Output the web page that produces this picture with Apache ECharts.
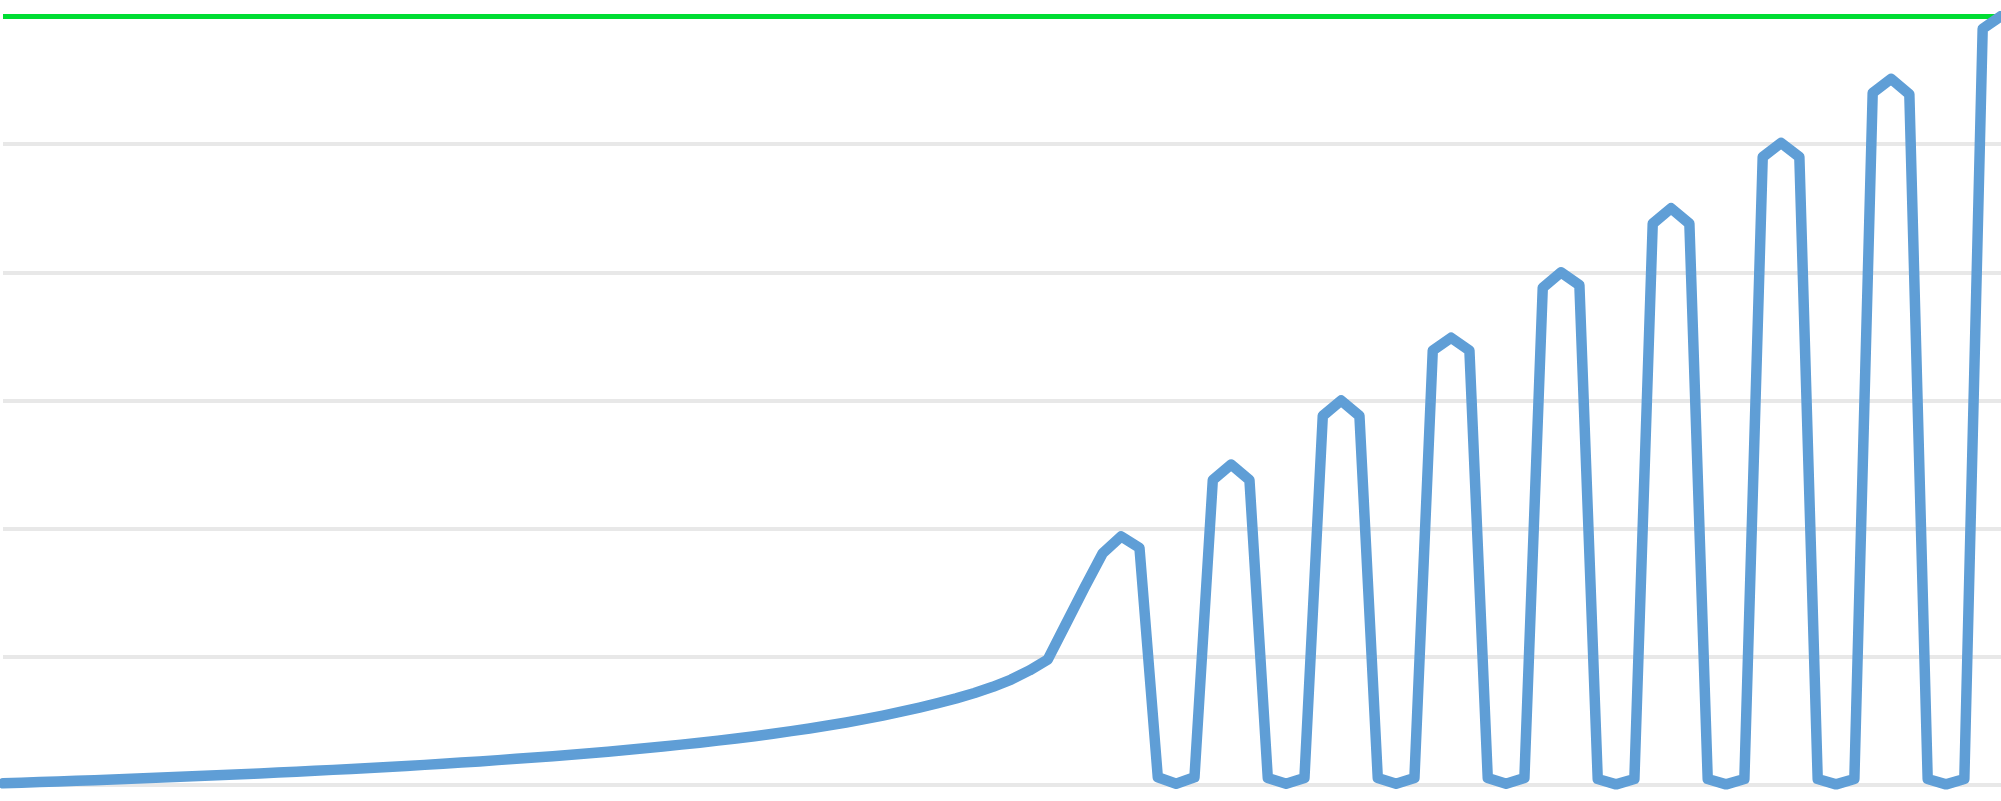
<!DOCTYPE html>
<html>
<head>
<meta charset="utf-8">
<script src="https://cdn.jsdelivr.net/npm/echarts@6/dist/echarts.min.js"></script>
<style>
  html, body { margin: 0; padding: 0; background: #ffffff; }
  #chart { width: 2001px; height: 801px; }
</style>
</head>
<body>
<div id="chart"></div>
<script>
// Slowly rising base curve (points 0..57)
const baseCurve = [
  1.3, 1.8, 2.3, 2.8, 3.3, 3.8, 4.3, 4.9, 5.4, 6.0,
  6.6, 7.2, 7.8, 8.4, 9.0, 9.7, 10.4, 11.1, 11.8, 12.5,
  13.3, 14.1, 14.9, 15.7, 16.6, 17.5, 18.4, 19.4, 20.4, 21.4,
  22.5, 23.6, 24.8, 26.0, 27.3, 28.6, 30.0, 31.5, 33.0, 34.6,
  36.3, 38.1, 40.0, 42.0, 44.1, 46.4, 48.8, 51.4, 54.2, 57.2,
  60.4, 63.9, 67.6, 71.8, 76.6, 82.3, 89.4, 98.0
];
// Steep rise into the first hump (points 58..62)
const hump = [126, 154, 181, 194, 185];
// Valleys (3 points each) and peaks (shoulder, apex, shoulder)
const valley1 = [6, 1, 6];       const peak1 = [238, 250, 238];
const valley2 = [5.5, 1, 5.5];   const peak2 = [288, 300, 288];
const valley3 = [5.5, 1, 5.5];   const peak3 = [339, 349, 339];
const valley4 = [5.5, 1, 5.5];   const peak4 = [388, 400, 390];
const valley5 = [4.7, 0.5, 4.7]; const peak5 = [438, 450, 438];
const valley6 = [4.7, 0.5, 4.7]; const peak6 = [490, 501, 490];
const valley7 = [4.7, 0.5, 4.7]; const peak7 = [540, 551, 539];
const valley8 = [4.7, 0.5, 4.7]; const peak8 = [590, 600];

const yMin = 0, yMax = 600, yStep = 100;

const values = [].concat(
  baseCurve, hump,
  valley1, peak1, valley2, peak2, valley3, peak3, valley4, peak4,
  valley5, peak5, valley6, peak6, valley7, peak7, valley8, peak8
);
const categories = values.map((_, i) => String(i + 1));

const chart = echarts.init(document.getElementById('chart'), null, { renderer: 'canvas' });
chart.setOption({
  animation: false,
  backgroundColor: '#ffffff',
  grid: { left: 3, right: 0, top: 16, bottom: 16, containLabel: false },
  xAxis: {
    type: 'category',
    data: categories,
    boundaryGap: false,
    axisLine: { show: false },
    axisTick: { show: false },
    axisLabel: { show: false },
    splitLine: { show: false }
  },
  yAxis: {
    type: 'value',
    min: yMin,
    max: yMax,
    interval: yStep,
    axisLine: { show: false },
    axisTick: { show: false },
    axisLabel: { show: false },
    splitLine: { show: true, lineStyle: { color: '#e8e8e8', width: 4 } }
  },
  series: [{
    type: 'line',
    data: values,
    showSymbol: false,
    symbol: 'none',
    smooth: false,
    lineStyle: { color: '#5f9ed6', width: 10.5, join: 'round', cap: 'round' },
    z: 3,
    markLine: {
      silent: true,
      symbol: ['none', 'none'],
      label: { show: false },
      lineStyle: { color: '#00dd33', width: 5, type: 'solid' },
      data: [{ yAxis: yMax }],
      z: 2
    }
  }]
});
</script>
</body>
</html>
